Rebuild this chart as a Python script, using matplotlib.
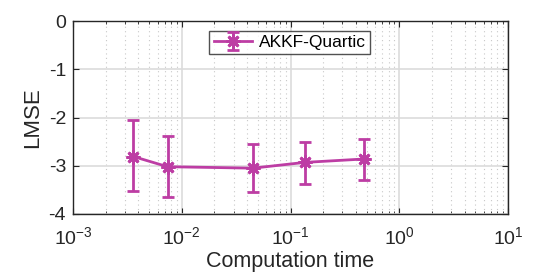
import matplotlib
matplotlib.use("Agg")
import matplotlib.pyplot as plt
import numpy as np

plt.rcParams["font.family"] = ["Liberation Sans", "DejaVu Sans"]

# data
times = [3.6e-3, 7.4e-3, 0.045, 0.136, 0.475]
lmse = [-2.81, -3.02, -3.05, -2.93, -2.86]
err_top = [-2.06, -2.38, -2.55, -2.50, -2.44]
err_bottom = [-3.53, -3.65, -3.54, -3.37, -3.29]
series_label = "AKKF-Quartic"

COLOR = "#BD3DA4"

lmse_arr = np.array(lmse)
yerr = [lmse_arr - np.array(err_bottom), np.array(err_top) - lmse_arr]

fig = plt.figure(figsize=(5.6, 2.78), dpi=100)
ax = fig.add_axes([73 / 560, 1 - 214 / 278, (508 - 73) / 560, (214 - 21) / 278])

ax.errorbar(times, lmse, yerr=yerr, color=COLOR, linewidth=2, elinewidth=2,
            capsize=4, capthick=2, marker=(8, 2, 0), markersize=10,
            markeredgewidth=2, label=series_label)

ax.set_xscale("log")
ax.set_xlim(1e-3, 1e1)
ax.set_ylim(-4, 0)
ax.set_yticks([-4, -3, -2, -1, 0])
ax.set_yticklabels(["-4", "-3", "-2", "-1", "0"])

ax.grid(True, which="major", color="#dcdcdc", linewidth=1.2, linestyle="-")
ax.grid(True, which="minor", axis="x", color="#c8c8c8", linewidth=0.8, linestyle=(0, (1, 3)))
ax.set_axisbelow(True)

ax.tick_params(which="both", direction="in", top=True, right=True, labelsize=14, colors="#262626")
ax.tick_params(which="major", length=4)
ax.tick_params(which="minor", length=2.5)
ax.tick_params(axis="x", pad=9)
ax.tick_params(axis="y", pad=5)
for sp in ax.spines.values():
    sp.set_color("#262626")
    sp.set_linewidth(1.0)

ax.set_xlabel("Computation time", fontsize=15.5, color="#262626", labelpad=2)
ax.set_ylabel("LMSE", fontsize=16, color="#262626", labelpad=4)

leg = ax.legend(loc="upper center", bbox_to_anchor=(0.498, 1.0), fontsize=12.5,
                frameon=True, fancybox=False, borderpad=0.25, handlelength=2.2,
                handletextpad=0.4, borderaxespad=0.55)
leg.get_frame().set_edgecolor("#262626")
leg.get_frame().set_linewidth(1.0)

fig.savefig("out.png", dpi=100, facecolor="white")
